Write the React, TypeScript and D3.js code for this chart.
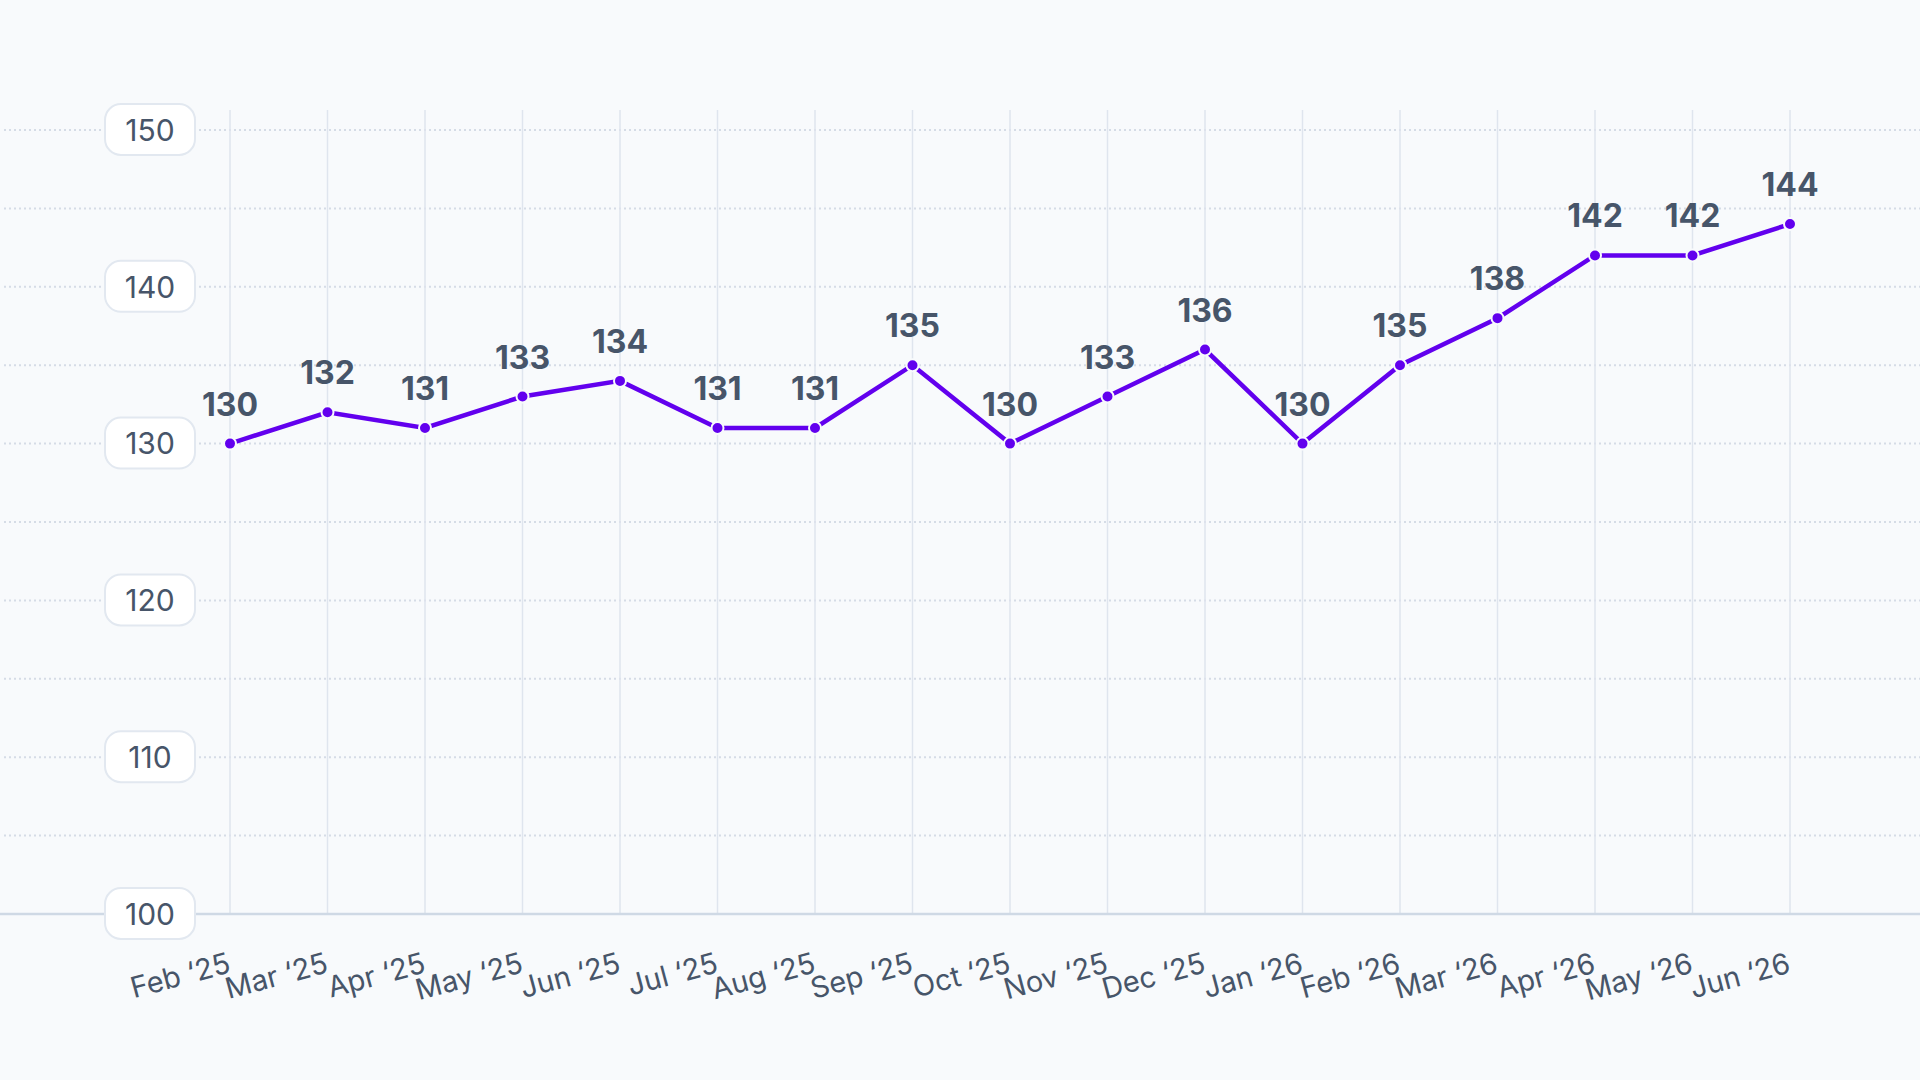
import { useEffect, useRef } from "react";
import * as d3 from "d3";

const months = [
  "Feb \u201825", "Mar \u201825", "Apr \u201825", "May \u201825", "Jun \u201825",
  "Jul \u201825", "Aug \u201825", "Sep \u201825", "Oct \u201825", "Nov \u201825",
  "Dec \u201825", "Jan \u201826", "Feb \u201826", "Mar \u201826", "Apr \u201826",
  "May \u201826", "Jun \u201826",
];
const values = [130, 132, 131, 133, 134, 131, 131, 135, 130, 133, 136, 130, 135, 138, 142, 142, 144];
const yTicks = [100, 110, 120, 130, 140, 150];
const yGrid = [105, 110, 115, 120, 125, 130, 135, 140, 145, 150];

const width = 1920;
const height = 1080;
const font = "Inter, 'Noto Sans', sans-serif";

export default function App() {
  const ref = useRef<HTMLDivElement | null>(null);

  useEffect(() => {
    if (!ref.current) return;
    document.body.style.margin = "0";
    d3.select(ref.current).selectAll("svg").remove();

    const svg = d3
      .select(ref.current)
      .append("svg")
      .attr("width", width)
      .attr("height", height)
      .style("display", "block");

    svg.append("rect").attr("width", width).attr("height", height).attr("fill", "#f8fafc");

    const x = d3.scalePoint<string>().domain(months).range([230, 1790]);
    const y = d3.scaleLinear().domain([100, 150]).range([914, 130]);

    // dotted horizontal grid
    svg
      .append("g")
      .selectAll("line")
      .data(yGrid)
      .enter()
      .append("line")
      .attr("x1", 4)
      .attr("x2", width)
      .attr("y1", (d) => y(d))
      .attr("y2", (d) => y(d))
      .attr("stroke", "#d5dce6")
      .attr("stroke-width", 2)
      .attr("stroke-dasharray", "2 3");

    // vertical grid
    svg
      .append("g")
      .selectAll("line")
      .data(months)
      .enter()
      .append("line")
      .attr("x1", (d) => x(d)!)
      .attr("x2", (d) => x(d)!)
      .attr("y1", 110)
      .attr("y2", y(100))
      .attr("stroke", "#dfe5ee")
      .attr("stroke-width", 1.5);

    // baseline
    svg
      .append("line")
      .attr("x1", 0)
      .attr("x2", width)
      .attr("y1", y(100))
      .attr("y2", y(100))
      .attr("stroke", "#cfd9e5")
      .attr("stroke-width", 2.5);

    // y tick pills
    const pills = svg
      .append("g")
      .selectAll("g")
      .data(yTicks)
      .enter()
      .append("g")
      .attr("transform", (d) => `translate(150,${y(d)})`);
    pills
      .append("rect")
      .attr("x", -45)
      .attr("y", -26)
      .attr("width", 90)
      .attr("height", 51)
      .attr("rx", 16)
      .attr("fill", "#ffffff")
      .attr("stroke", "#e2e8f0")
      .attr("stroke-width", 2);
    pills
      .append("text")
      .attr("text-anchor", "middle")
      .attr("dy", "0.36em")
      .attr("font-family", font)
      .attr("font-size", 30)
      .attr("fill", "#475569")
      .text((d) => d);

    // x labels
    svg
      .append("g")
      .selectAll("text")
      .data(months)
      .enter()
      .append("text")
      .attr("transform", (d) => `translate(${x(d)! + 2},${y(100) + 58}) rotate(-15)`)
      .attr("text-anchor", "end")
      .attr("font-family", font)
      .attr("font-size", 29)
      .attr("fill", "#475569")
      .text((d) => d);

    // line
    const line = d3
      .line<number>()
      .x((_, i) => x(months[i])!)
      .y((d) => y(d));
    svg
      .append("path")
      .datum(values)
      .attr("d", line)
      .attr("fill", "none")
      .attr("stroke", "#6200ee")
      .attr("stroke-width", 4.5);

    svg
      .append("g")
      .selectAll("circle")
      .data(values)
      .enter()
      .append("circle")
      .attr("cx", (_, i) => x(months[i])!)
      .attr("cy", (d) => y(d))
      .attr("r", 6)
      .attr("fill", "#6200ee")
      .attr("stroke", "#f8fafc")
      .attr("stroke-width", 2);

    svg
      .append("g")
      .selectAll("text")
      .data(values)
      .enter()
      .append("text")
      .attr("x", (_, i) => x(months[i])!)
      .attr("y", (d) => y(d) - 28)
      .attr("text-anchor", "middle")
      .attr("font-family", font)
      .attr("font-weight", 700)
      .attr("font-size", 32)
      .attr("fill", "#475569")
      .text((d) => d);
  }, []);

  return <div ref={ref} />;
}
